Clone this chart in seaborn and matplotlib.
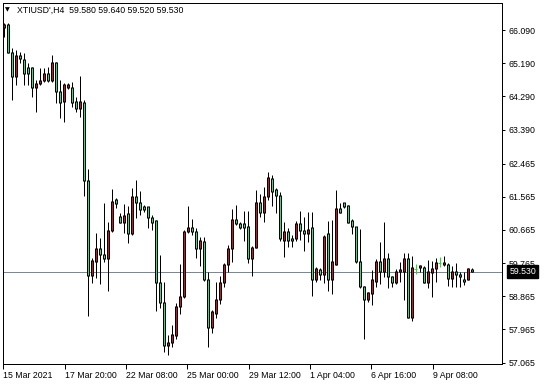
import numpy as np
import pandas as pd
import matplotlib
matplotlib.use("Agg")
import matplotlib.pyplot as plt
import matplotlib.transforms as mtransforms
import seaborn as sns

symbol = "XTIUSD',H4"
opens = [66.17, 66.25, 65.49, 64.82, 65.41, 65.30, 65.06, 65.06, 64.54, 64.63,
         64.71, 64.90, 64.71, 65.20, 64.41, 64.14, 64.54, 64.52, 64.14, 63.95,
         64.11, 62.02, 59.44, 59.80, 60.15, 60.01, 59.88, 60.64, 61.48, 61.02,
         60.88, 61.10, 60.58, 61.56, 61.42, 61.29, 61.29, 60.99, 60.91, 59.25,
         58.71, 57.52, 57.60, 57.79, 58.58, 58.87, 60.61, 60.72, 60.61, 60.15,
         60.34, 59.33, 58.03, 58.41, 58.79, 59.23, 59.74, 60.15, 60.96, 60.85,
         60.83, 60.75, 59.88, 60.20, 61.40, 61.15, 61.56, 62.05, 61.75, 61.61,
         60.39, 60.61, 60.42, 60.42, 60.85, 60.66, 60.58, 60.72, 59.33, 59.58,
         59.47, 60.56, 59.33, 59.74, 61.26, 61.40, 61.32, 60.91, 60.75, 59.80,
         59.12, 58.79, 58.93, 59.28, 59.80, 59.53, 59.88, 59.39, 59.23, 59.53,
         59.55, 59.88, 58.28, 59.61, 59.66, 59.66, 59.25, 59.50, 59.61, 59.77,
         59.72, 59.74, 59.36, 59.53, 59.47, 59.31, 59.31, 59.58]
highs = [66.28, 66.28, 65.60, 65.55, 65.49, 65.47, 65.20, 65.09, 64.73, 65.06,
         65.06, 65.09, 65.41, 65.22, 64.73, 64.65, 64.65, 64.68, 64.27, 64.84,
         64.19, 62.32, 59.90, 60.58, 60.45, 61.40, 60.88, 61.78, 61.53, 61.13,
         61.37, 61.32, 61.80, 62.02, 61.72, 61.34, 61.29, 61.07, 60.94, 59.99,
         59.25, 57.82, 58.09, 58.68, 59.74, 60.66, 61.32, 60.96, 60.72, 60.47,
         60.47, 59.53, 58.49, 59.25, 59.42, 59.77, 60.26, 61.23, 61.34, 60.88,
         61.18, 61.18, 60.23, 61.75, 61.64, 61.83, 62.24, 62.16, 61.80, 61.70,
         60.88, 60.72, 60.53, 60.91, 61.18, 61.02, 61.15, 61.15, 59.66, 59.63,
         60.53, 60.91, 60.94, 61.75, 61.40, 61.40, 61.34, 60.96, 60.75, 60.69,
         59.15, 58.98, 59.58, 59.88, 60.34, 60.88, 60.04, 59.42, 59.61, 59.80,
         60.04, 60.04, 59.96, 59.74, 59.72, 59.69, 59.85, 59.82, 59.90, 59.93,
         59.96, 59.77, 59.69, 59.77, 59.53, 59.53, 59.63, 59.64]
lows = [65.90, 65.47, 64.19, 64.60, 65.20, 64.60, 64.60, 64.27, 63.87, 64.60,
        64.68, 64.68, 64.68, 64.11, 63.70, 63.59, 64.49, 64.00, 63.87, 63.73,
        61.59, 58.33, 59.23, 59.36, 59.20, 59.80, 59.01, 60.61, 61.26, 60.85,
        60.58, 60.31, 60.53, 60.99, 61.07, 61.15, 60.72, 60.66, 58.47, 58.55,
        57.35, 57.27, 57.49, 57.71, 58.39, 58.82, 60.58, 60.53, 59.90, 59.69,
        59.28, 57.49, 57.87, 58.28, 58.66, 59.12, 59.53, 59.80, 60.80, 60.69,
        60.37, 59.77, 59.42, 60.18, 61.02, 60.88, 61.48, 61.32, 61.13, 60.37,
        59.93, 60.20, 60.20, 60.37, 60.39, 60.09, 60.34, 58.87, 59.25, 59.31,
        59.23, 59.01, 58.93, 59.72, 61.13, 61.26, 60.85, 60.56, 59.77, 59.09,
        57.71, 58.71, 58.63, 59.12, 59.20, 59.39, 59.09, 59.12, 59.20, 59.25,
        58.77, 58.28, 58.20, 59.47, 59.53, 59.23, 59.09, 58.85, 59.25, 59.66,
        59.69, 59.15, 59.12, 59.12, 59.12, 59.17, 59.31, 59.52]
closes = [66.25, 65.49, 64.82, 65.41, 65.33, 64.90, 64.90, 64.54, 64.63, 64.71,
          64.92, 64.73, 65.20, 64.41, 64.11, 64.60, 64.60, 64.11, 63.95, 64.14,
          62.02, 59.44, 59.85, 60.15, 60.01, 59.88, 60.66, 61.45, 61.37, 60.88,
          61.07, 60.58, 61.56, 61.42, 61.23, 61.21, 60.99, 60.88, 59.25, 58.71,
          57.52, 57.60, 57.82, 58.60, 58.87, 60.61, 60.72, 60.61, 60.15, 60.37,
          59.33, 58.03, 58.44, 58.79, 59.23, 59.74, 60.15, 60.96, 60.85, 60.72,
          60.72, 59.88, 60.20, 61.40, 61.15, 61.56, 62.10, 61.70, 61.59, 60.42,
          60.61, 60.39, 60.39, 60.83, 60.64, 60.58, 60.69, 59.33, 59.61, 59.47,
          60.50, 59.33, 59.80, 61.26, 61.15, 61.29, 60.88, 60.75, 59.80, 59.12,
          58.79, 58.96, 59.31, 59.80, 59.53, 59.90, 59.39, 59.23, 59.53, 59.58,
          59.88, 58.30, 59.66, 59.61, 59.69, 59.25, 59.53, 59.61, 59.77, 59.77,
          59.77, 59.36, 59.53, 59.47, 59.39, 59.28, 59.61, 59.53]
x_tick_labels = ["15 Mar 2021", "17 Mar 20:00", "22 Mar 08:00", "25 Mar 00:00",
                 "29 Mar 12:00", "1 Apr 04:00", "6 Apr 16:00", "9 Apr 08:00"]
y_tick_values = [66.090, 65.190, 64.290, 63.390, 62.465, 61.565, 60.665,
                 59.765, 58.865, 57.965, 57.065]
header_values = ["59.580", "59.640", "59.520", "59.530"]
last_price = 59.530

sns.set_theme(style="white")
plt.rcParams["font.family"] = ["Liberation Sans", "DejaVu Sans"]

W, H = 546, 385
fig = plt.figure(figsize=(W / 100, H / 100), dpi=100)
ax = fig.add_axes([2.5 / W, 1 - 364 / H, (502 - 2.5) / W, (364 - 3) / H])
y_lo, y_hi = 66.904 - 0.02713 * 364, 66.904 - 0.02713 * 3
# bar i centred on pixel column 3.5 + 4*i
ax.set_xlim((2.5 - 3.5) / 4, (502 - 3.5) / 4)
ax.set_ylim(y_lo, y_hi)
px = (y_hi - y_lo) / 361.0  # one pixel in price units
PT = 0.72                    # one pixel in points

df = pd.DataFrame({"open": opens, "high": highs, "low": lows, "close": closes})
df["idx"] = np.arange(len(df))
df["top"] = df[["open", "close"]].max(axis=1)
df["bot"] = df[["open", "close"]].min(axis=1)
up = df["close"] > df["open"]
down = df["close"] < df["open"]
doji = df["close"] == df["open"]
nd = ~doji

GREEN = "#1FE68A"
RED = "#D3121F"
LIME = "#22DD22"

ax.axhline(last_price, color="#7A8794", lw=PT, zorder=0)
ax.vlines(df["idx"][nd], df["low"][nd], df["high"][nd], color="black", lw=PT, zorder=1)
ax.vlines(df["idx"][doji], df["low"][doji], df["high"][doji], color=LIME, lw=PT, zorder=1)
ax.hlines(df["open"][doji], df["idx"][doji] - 0.375, df["idx"][doji] + 0.375, color=LIME,
          lw=PT, zorder=2)

# body: black 3-px column, then coloured 1-px column inset by one pixel
b = df[nd]
ax.vlines(b["idx"], b["bot"] - px / 2, b["top"] + px / 2, color="black",
          lw=3 * PT, capstyle="butt", zorder=2)
for mask, col in ((up, RED), (down, GREEN)):
    f = df[mask & ((df["top"] - df["bot"]) > px)]
    ax.vlines(f["idx"], f["bot"] + px / 2, f["top"] - px / 2, color=col,
              lw=PT, capstyle="butt", zorder=3)

fs = 6.3
ax.yaxis.tick_right()
ax.set_yticks(y_tick_values)
ax.set_yticklabels([f"{v:.3f}" for v in y_tick_values])
ax.set_xticks([-0.05 + k * 15.33 for k in range(len(x_tick_labels))])
ax.set_xticklabels(x_tick_labels)
for lbl in ax.get_xticklabels():
    lbl.set_horizontalalignment("left")
ax.tick_params(axis="y", which="both", right=True, left=False, direction="out",
               length=2.5, width=PT, pad=2.5, labelsize=fs, colors="black")
ax.tick_params(axis="x", which="both", bottom=True, direction="out",
               length=3.5, width=PT, pad=1.5, labelsize=fs, colors="black")
for s in ax.spines.values():
    s.set_color("black")
    s.set_linewidth(PT)
ax.grid(False)

trans = mtransforms.blended_transform_factory(ax.transAxes, ax.transData)
ax.text(1 + 7.5 / 499.5, last_price, f"{last_price:.3f}", transform=trans,
        ha="left", va="center", color="white", fontsize=fs,
        bbox=dict(boxstyle="square,pad=0.25", fc="black", ec="black"))

fig.text(5 / W, 1 - 9.5 / H, "\u25BC", fontsize=4.5, ha="left", va="center",
         color="black", family=["DejaVu Sans"])
fig.text(17 / W, 1 - 10 / H, symbol + "  " + " ".join(header_values),
         fontsize=fs, ha="left", va="center", color="black")

fig.savefig("out.png", dpi=100, facecolor="white")
